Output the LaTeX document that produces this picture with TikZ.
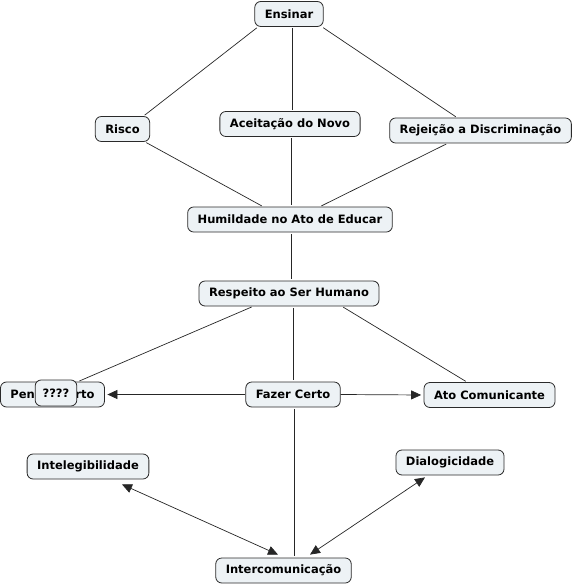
\documentclass[tikz,border=0pt]{standalone}
\usepackage{fontspec}
\setmainfont{DejaVu Sans}
\usepackage{xcolor}
\usetikzlibrary{positioning,calc,arrows.meta}

\definecolor{conceptfill}{HTML}{EDF2F5}
\definecolor{conceptline}{HTML}{2A2A2A}

\begin{document}
\begin{tikzpicture}[
    x=1pt, y=-1pt,
    concept/.style={
        rectangle,
        draw=conceptline,
        fill=conceptfill,
        line width=0.8pt,
        rounded corners=6pt,
        minimum height=25pt,
        inner xsep=10pt,
        inner ysep=2pt,
        align=center,
        font=\bfseries\fontsize{11.5}{13}\selectfont
    },
    link/.style={
        line width=0.7pt,
        draw=black!85,
        shorten <=1.5pt,
        shorten >=1.5pt
    },
    arrowlink/.style={
        line width=0.7pt,
        draw=black!85,
        -{Triangle[length=10pt,width=9pt]}
    },
    twoway/.style={
        line width=0.7pt,
        draw=black!85,
        {Triangle[length=10pt,width=9pt]}-{Triangle[length=10pt,width=9pt]}
    }
]

\useasboundingbox (0,0) rectangle (575,588);

% ------------------------------------------------------------
% Concepts
% ------------------------------------------------------------

\node[concept] (ens) at (289,14) {Ensinar};

\node[concept] (risco) at (122.5,129) {Risco};

\node[concept] (aceit) at (290,124) {Aceitação do Novo};

\node[concept] (rejei) at (480.5,130.5) {Rejeição a Discriminação};

\node[concept] (humil) at (290,219.5) {Humildade no Ato de Educar};

\node[concept] (resp) at (289,293.5) {Respeito ao Ser Humano};

\node[concept] (pensar) at (52.5,394.5) {Pensar Certo};

\node[concept, inner xsep=7.5pt, minimum height=26pt] (qm) at (56,393) {????};

\node[concept] (fazer) at (293,394.5) {Fazer Certo};

\node[concept] (ato) at (489.5,395) {Ato Comunicante};

\node[concept] (intel) at (88,466.5) {Intelegibilidade};

\node[concept] (dialog) at (450,462.5) {Dialogicidade};

\node[concept] (intercom) at (283.5,570.5) {Intercomunicação};

% ------------------------------------------------------------
% Ensinar -> Risco / Aceitacao / Rejeicao
% ------------------------------------------------------------

\draw[link] ([xshift=-31pt]ens.south) -- ([xshift=21pt]risco.north);

\draw[link] ([xshift=3pt]ens.south) -- ([xshift=2pt]aceit.north);

\draw[link] ([xshift=33pt]ens.south) -- ([xshift=-23.5pt]rejei.north);

% ------------------------------------------------------------
% Risco / Aceitacao / Rejeicao -> Humildade
% ------------------------------------------------------------

\draw[link] ([xshift=22.5pt]risco.south) -- ([xshift=-27pt]humil.north);

\draw[link] ([xshift=1.5pt]aceit.south) -- ([xshift=1.5pt]humil.north);

\draw[link] ([xshift=-33pt]rejei.south) -- ([xshift=30pt]humil.north);

% ------------------------------------------------------------
% Humildade -> Respeito -> Pensar / Fazer / Ato
% ------------------------------------------------------------

\draw[link] ([xshift=1pt]humil.south) -- ([xshift=2pt]resp.north);

\draw[link] ([xshift=-36pt]resp.south) -- ([xshift=25.5pt]pensar.north);

\draw[link] ([xshift=4pt]resp.south) -- (fazer.north);

\draw[link] ([xshift=53pt]resp.south) -- ([xshift=-22.5pt]ato.north);

% ------------------------------------------------------------
% Fazer Certo -> Pensar Certo / Ato Comunicante
% ------------------------------------------------------------

\draw[arrowlink, shorten >=2.5pt] (fazer.west) -- (pensar.east);

\draw[arrowlink, shorten >=2.5pt] (fazer.east) -- (ato.west);

\draw[link] ([xshift=1.5pt]fazer.south) -- ([xshift=11pt]intercom.north);

% ------------------------------------------------------------
% Intercomunicacao <-> Intelegibilidade / Dialogicidade
% ------------------------------------------------------------

\draw[twoway] ([xshift=34pt,yshift=-5pt]intel.south)
    -- ([xshift=-5.5pt,yshift=3pt]intercom.north);

\draw[twoway] ([xshift=-25pt,yshift=-2pt]dialog.south)
    -- ([xshift=26.5pt,yshift=3pt]intercom.north);

\end{tikzpicture}
\end{document}
